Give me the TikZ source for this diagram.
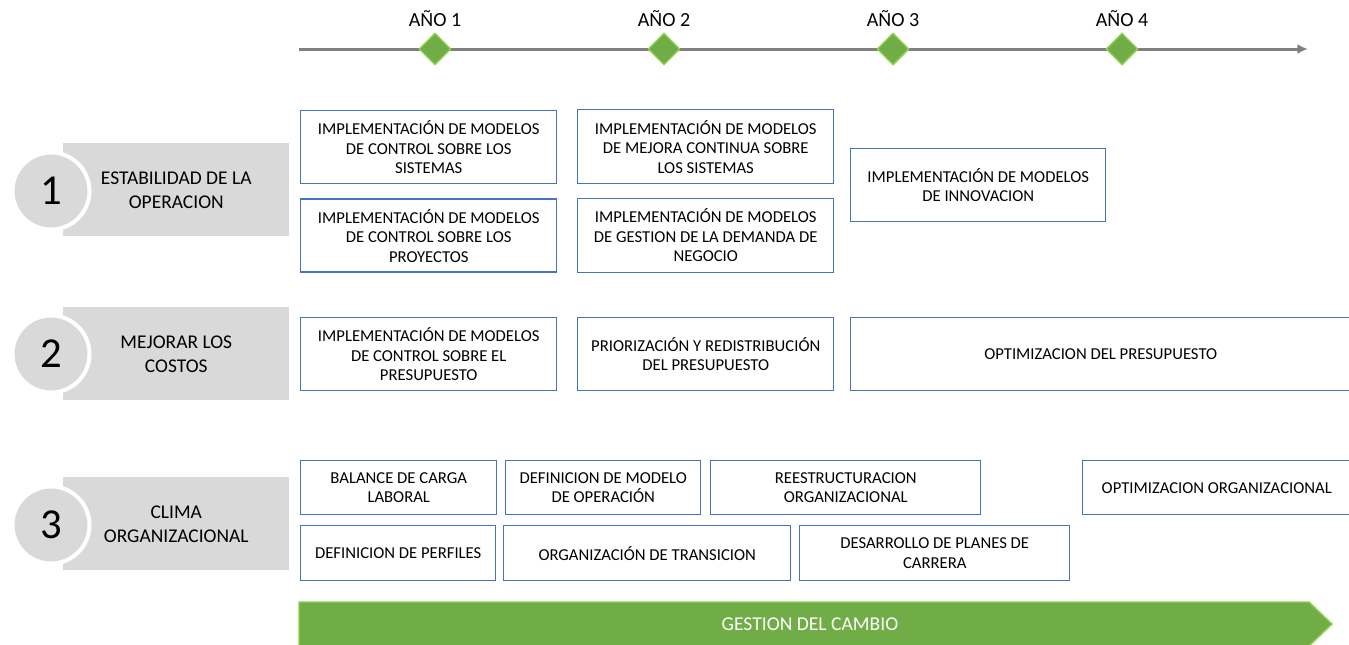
\documentclass[tikz,border=0pt]{standalone}
\usepackage{fontspec}
\setmainfont{Carlito}
\usepackage{xcolor}
\usepackage{tikz}
\usetikzlibrary{arrows.meta}
\usetikzlibrary{shapes,positioning}
\definecolor{plan-blue}{HTML}{4472C4}
\definecolor{plan-gray}{HTML}{D9D9D9}
\definecolor{plan-green}{HTML}{70AD47}
\definecolor{plan-lightgreen}{HTML}{92D050}
\definecolor{plan-line}{HTML}{808080}
\tikzset{>=latex}
\tikzset{plan-box/.style 2 args={draw=plan-blue, line width=1.1pt, inner sep=0, anchor=north west, align=center, minimum width=#1*0.75pt, minimum height=#2*0.75pt, font=\fontsize{12.5}{14.6}\selectfont}}
\tikzset{goal-label/.style={fill=plan-gray, inner sep=0, anchor=north west, align=center, minimum width=226*0.75pt, minimum height=93*0.75pt, font=\fontsize{14.6}{18}\selectfont}}
\tikzset{goal-number/.style={circle, fill=plan-gray, draw=white, line width=3pt, inner sep=0, minimum size=77*0.75pt, font=\fontsize{32}{32}\selectfont}}
\tikzset{year-mark/.style={diamond, fill=plan-green, draw=plan-lightgreen, line width=1.1pt, inner sep=0, minimum width=32*0.75pt, minimum height=32*0.75pt}}
\tikzset{year-label/.style={inner sep=0, font=\fontsize{15}{18}\selectfont}}

\begin{document}
\begin{tikzpicture}[x=0.75pt, y=-0.75pt]
            \useasboundingbox (0,0) rectangle (1349,644);

            % linea de tiempo
            \coordinate (tl-start) at (299,49);
            \coordinate (tl-end) at (1308,49);
            \draw[plan-line, line width=2.25pt, -{Latex[length=8pt, width=7.5pt]}] (tl-start) -- (tl-end);

            \node[year-mark] (year1) at (435,49) {};
            \node[year-mark] (year2) at (664,49) {};
            \node[year-mark] (year3) at (893,49) {};
            \node[year-mark] (year4) at (1122,49) {};

            \node[year-label, above=4pt of year1] {AÑO 1};
            \node[year-label, above=4pt of year2] {AÑO 2};
            \node[year-label, above=4pt of year3] {AÑO 3};
            \node[year-label, above=4pt of year4] {AÑO 4};

            % objetivos
            \node[goal-label] (goal1) at (63,143) {ESTABILIDAD DE LA\\OPERACION};
            \node[goal-label] (goal2) at (63,307) {MEJORAR LOS\\COSTOS};
            \node[goal-label] (goal3) at (63,477) {CLIMA\\ORGANIZACIONAL};

            \node[goal-number] (num1) at (51,191) {1};
            \node[goal-number] (num2) at (51,354) {2};
            \node[goal-number] (num3) at (51,525) {3};

            % fila 1
            \node[plan-box={256}{73}] (box1) at (300,110) {IMPLEMENTACIÓN DE MODELOS\\DE CONTROL SOBRE LOS\\SISTEMAS};
            \node[plan-box={256}{73}, below=10.5pt of box1] (box2) {IMPLEMENTACIÓN DE MODELOS\\DE CONTROL SOBRE LOS\\PROYECTOS};
            \node[plan-box={256}{74}] (box3) at (577,109) {IMPLEMENTACIÓN DE MODELOS\\DE MEJORA CONTINUA SOBRE\\LOS SISTEMAS};
            \node[plan-box={256}{74}, below=10pt of box3] (box4) {IMPLEMENTACIÓN DE MODELOS\\DE GESTION DE LA DEMANDA DE\\NEGOCIO};
            \node[plan-box={255}{73}] (box5) at (850,148) {IMPLEMENTACIÓN DE MODELOS\\DE INNOVACION};

            % fila 2
            \node[plan-box={256}{73}] (box6) at (300,317) {IMPLEMENTACIÓN DE MODELOS\\DE CONTROL SOBRE EL\\PRESUPUESTO};
            \node[plan-box={256}{73}] (box7) at (577,317) {PRIORIZACIÓN Y REDISTRIBUCIÓN\\DEL PRESUPUESTO};
            \node[plan-box={500}{73}] (box8) at (850,317) {OPTIMIZACION DEL PRESUPUESTO};

            % fila 3
            \node[plan-box={196}{54}] (box9) at (300,460) {BALANCE DE CARGA\\LABORAL};
            \node[plan-box={195}{54}] (box10) at (505,460) {DEFINICION DE MODELO\\DE OPERACIÓN};
            \node[plan-box={270}{54}] (box11) at (710,460) {REESTRUCTURACION\\ORGANIZACIONAL};
            \node[plan-box={268}{54}] (box12) at (1082,460) {OPTIMIZACION ORGANIZACIONAL};

            \node[plan-box={195}{55}] (box13) at (300,525) {DEFINICION DE PERFILES};
            \node[plan-box={287}{55}] (box14) at (503,525) {ORGANIZACIÓN DE TRANSICION};
            \node[plan-box={270}{55}] (box15) at (799,525) {DESARROLLO DE PLANES DE\\CARRERA};

            % gestion del cambio
            \draw[fill=plan-green, draw=plan-lightgreen, line width=1.1pt] (299,602) -- (1309,602) -- (1332,624) -- (1309,646) -- (299,646) -- cycle;
            \node[text=white, font=\fontsize{14.7}{18}\selectfont] (change) at (810,624) {GESTION DEL CAMBIO};

        \end{tikzpicture}
\end{document}
